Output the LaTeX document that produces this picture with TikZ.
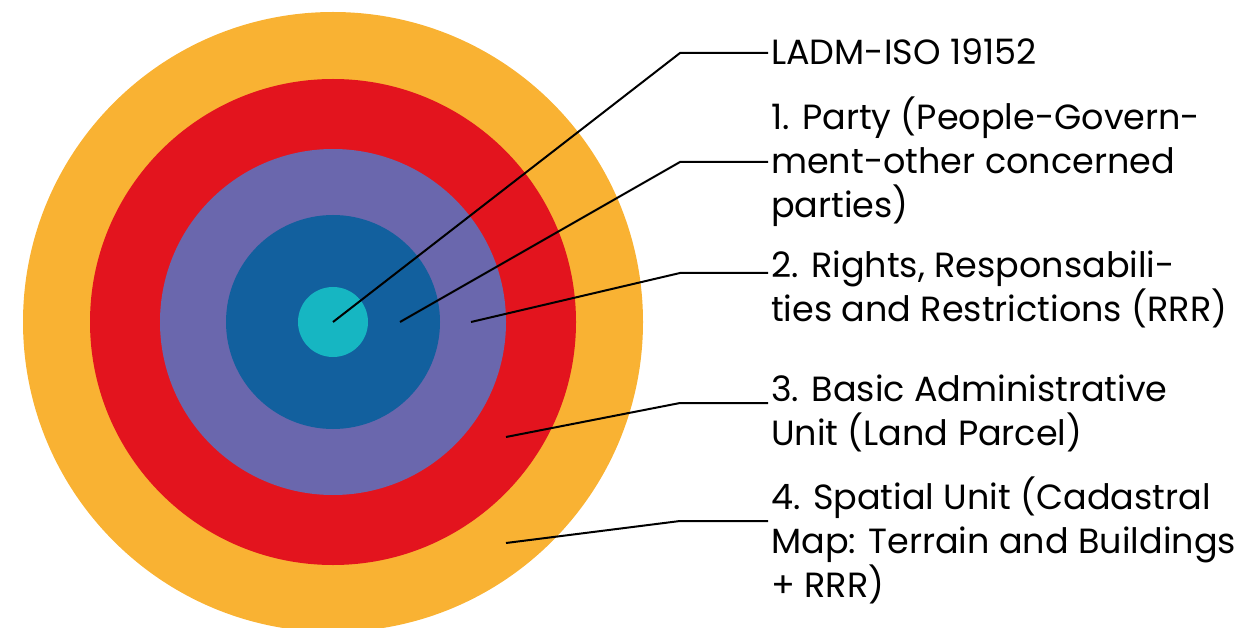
\documentclass[tikz,border=0pt]{standalone}
\usepackage{fontspec}
\setmainfont{Poppins}
\definecolor{ringA}{HTML}{F9B233}
\definecolor{ringB}{HTML}{E3141E}
\definecolor{ringC}{HTML}{6A67AD}
\definecolor{ringD}{HTML}{12609E}
\definecolor{ringE}{HTML}{16B6C2}
\begin{document}
\begin{tikzpicture}[x=1pt,y=-1pt,
  lbl/.style={anchor=base west,inner sep=0pt,align=left,
    font=\fontsize{35}{44}\selectfont},
  lead/.style={line width=2pt,black}]
\useasboundingbox (0,0) rectangle (1242,628);
\clip (0,0) rectangle (1242,628);
% concentric rings
\fill[ringA] (333,322) circle[radius=310pt];
\fill[ringB] (333,322) circle[radius=243pt];
\fill[ringC] (333,322) circle[radius=173pt];
\fill[ringD] (333,322) circle[radius=107pt];
\fill[ringE] (333,322) circle[radius=35pt];
% labels (positioned by the baseline of their last line)
\node[lbl] (t0) at (771,65) {LADM-ISO 19152};
\node[lbl] (t1) at (771,218) {1. Party (People-Govern-\\ment-other concerned\\parties)};
\node[lbl] (t2) at (771,322) {2. Rights, Responsabili-\\ties and Restrictions (RRR)};
\node[lbl] (t3) at (771,445) {3. Basic Administrative\\Unit (Land Parcel)};
\node[lbl] (t4) at (771,597) {4. Spatial Unit (Cadastral\\Map: Terrain and Buildings\\+ RRR)};
% leader anchors
\coordinate (p0) at (333,322); \coordinate (k0) at (680,53);  \coordinate (e0) at (768,53);
\coordinate (p1) at (400,322); \coordinate (k1) at (680,162); \coordinate (e1) at (768,162);
\coordinate (p2) at (471,322); \coordinate (k2) at (680,273); \coordinate (e2) at (768,273);
\coordinate (p3) at (506,437); \coordinate (k3) at (680,403); \coordinate (e3) at (768,403);
\coordinate (p4) at (506,543); \coordinate (k4) at (680,521); \coordinate (e4) at (768,521);
\foreach \i in {0,...,4} \draw[lead] (p\i) -- (k\i) -- (e\i);
\end{tikzpicture}
\end{document}
